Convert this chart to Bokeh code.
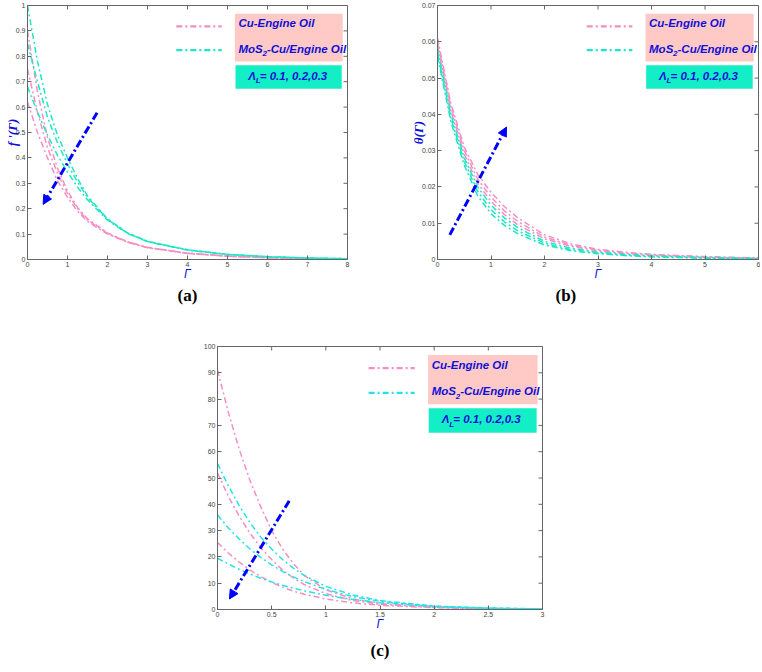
import math
from bokeh.plotting import figure
from bokeh.models import (Range1d, FixedTicker, Title, Label, Arrow,
                          NormalHead, CustomJSTickFormatter, BoxAnnotation)
from bokeh.layouts import column, row
from bokeh.embed import file_html
from bokeh.resources import INLINE

# ---------------- data: panel (a)  f'(Gamma) ----------------
gamma_a = [0, 0.25, 0.5, 0.75, 1, 1.25, 1.5, 2, 2.5, 3, 4, 5, 6, 7, 8]
fa_cu_1 = [0.90, 0.66, 0.48, 0.36, 0.27, 0.205, 0.16, 0.105, 0.070, 0.048, 0.025, 0.013, 0.007, 0.004, 0.002]
fa_cu_2 = [0.75, 0.58, 0.44, 0.34, 0.26, 0.200, 0.155, 0.103, 0.069, 0.047, 0.025, 0.013, 0.007, 0.004, 0.002]
fa_cu_3 = [0.62, 0.50, 0.40, 0.31, 0.245, 0.190, 0.150, 0.100, 0.068, 0.046, 0.024, 0.013, 0.007, 0.004, 0.002]
fa_mos_1 = [1.00, 0.78, 0.61, 0.49, 0.40, 0.320, 0.250, 0.160, 0.105, 0.072, 0.038, 0.020, 0.011, 0.006, 0.003]
fa_mos_2 = [0.85, 0.70, 0.56, 0.46, 0.375, 0.305, 0.245, 0.158, 0.104, 0.071, 0.038, 0.020, 0.011, 0.006, 0.003]
fa_mos_3 = [0.68, 0.58, 0.49, 0.41, 0.345, 0.285, 0.235, 0.155, 0.102, 0.070, 0.037, 0.020, 0.011, 0.006, 0.003]
xticks_a = [0, 1, 2, 3, 4, 5, 6, 7, 8]
yticks_a = [0, 0.1, 0.2, 0.3, 0.4, 0.5, 0.6, 0.7, 0.8, 0.9, 1]

# ---------------- data: panel (b)  theta(Gamma) ----------------
gamma_b = [0, 0.25, 0.5, 0.75, 1, 1.25, 1.5, 2, 2.5, 3, 3.5, 4, 5, 6]
tb_cu_1 = [0.061, 0.043, 0.031, 0.0235, 0.0185, 0.0146, 0.0115, 0.0068, 0.0043, 0.0028, 0.0020, 0.0014, 0.0008, 0.0004]
tb_cu_2 = [0.060, 0.042, 0.030, 0.0222, 0.0172, 0.0134, 0.0105, 0.0062, 0.0039, 0.0026, 0.0018, 0.0013, 0.0007, 0.0004]
tb_cu_3 = [0.059, 0.041, 0.029, 0.0210, 0.0160, 0.0124, 0.0096, 0.0057, 0.0036, 0.0024, 0.0016, 0.0012, 0.0006, 0.0003]
tb_mos_1 = [0.058, 0.040, 0.028, 0.0200, 0.0150, 0.0115, 0.0088, 0.0050, 0.0031, 0.0020, 0.0014, 0.0010, 0.0005, 0.0003]
tb_mos_2 = [0.057, 0.039, 0.027, 0.0188, 0.0137, 0.0104, 0.0079, 0.0045, 0.0027, 0.0018, 0.0012, 0.0009, 0.0004, 0.0002]
tb_mos_3 = [0.056, 0.038, 0.026, 0.0176, 0.0126, 0.0094, 0.0071, 0.0040, 0.0024, 0.0016, 0.0011, 0.0007, 0.0004, 0.0002]
xticks_b = [0, 1, 2, 3, 4, 5, 6]
yticks_b = [0, 0.01, 0.02, 0.03, 0.04, 0.05, 0.06, 0.07]

# ---------------- data: panel (c)  N_G ----------------
gamma_c = [0, 0.1, 0.2, 0.3, 0.4, 0.5, 0.6, 0.7, 0.8, 1.0, 1.25, 1.5, 2, 2.5, 3]
ng_cu_1 = [91, 75, 61, 49, 39, 30, 23, 17.5, 13, 7.5, 4.0, 2.3, 0.9, 0.4, 0.2]
ng_cu_2 = [52, 43, 35.5, 29, 23.5, 19, 15, 12, 9.5, 6.0, 3.4, 2.0, 0.8, 0.35, 0.15]
ng_cu_3 = [25.5, 21.5, 18, 15, 12.5, 10.3, 8.5, 7.0, 5.8, 4.0, 2.5, 1.6, 0.7, 0.3, 0.12]
ng_mos_1 = [55.5, 47, 39.5, 33, 27.5, 23, 19, 15.7, 13, 8.8, 5.5, 3.4, 1.3, 0.55, 0.25]
ng_mos_2 = [36, 31, 26.8, 23, 19.8, 17, 14.5, 12.4, 10.6, 7.6, 4.9, 3.1, 1.2, 0.5, 0.22]
ng_mos_3 = [19.5, 17.3, 15.3, 13.5, 11.9, 10.5, 9.2, 8.1, 7.1, 5.4, 3.8, 2.6, 1.1, 0.45, 0.2]
xticks_c = [0, 0.5, 1, 1.5, 2, 2.5, 3]
yticks_c = [0, 10, 20, 30, 40, 50, 60, 70, 80, 90, 100]

legend_labels = ["Cu-Engine Oil", "MoS", "2", "-Cu/Engine Oil", "\u039b", "L", " = 0.1, 0.2,0.3"]

PINK = "#F48FC4"
PINK_BOX = "#FFC9C5"
CYAN_AB = "#1EE6C6"
CYAN_C = "#26E2E4"
CYAN_BOX = "#14EEC6"
BLUE_TXT = "#1010D8"
ARROW_BLUE = "#0000FF"
AXIS_GRAY = "#666666"
SANS = "Liberation Sans"
SERIF = "Liberation Serif"


def make_panel(width, height, bl, br, bt, bb, xr, yr, xticks, yticks):
    p = figure(width=width, height=height, x_range=Range1d(*xr), y_range=Range1d(*yr),
               output_backend="svg", toolbar_location=None,
               min_border_left=bl, min_border_right=br, min_border_top=bt, min_border_bottom=bb)
    p.grid.visible = False
    p.outline_line_color = AXIS_GRAY
    p.background_fill_color = "white"
    p.border_fill_color = "white"
    fmt = CustomJSTickFormatter(code="return String(Math.round(tick*1000)/1000);")
    for ax, ticks in ((p.xaxis[0], xticks), (p.yaxis[0], yticks)):
        ax.ticker = FixedTicker(ticks=ticks)
        ax.formatter = fmt
        ax.major_tick_in = 4
        ax.major_tick_out = 0
        ax.minor_tick_line_color = None
        ax.axis_line_color = AXIS_GRAY
        ax.major_tick_line_color = AXIS_GRAY
        ax.major_label_text_font = SANS
        ax.major_label_text_font_size = "7px"
        ax.major_label_text_color = "#444444"
        ax.major_label_standoff = 2
    # inward ticks on the top and right edges of the box
    p.ray(x=xticks, y=[yr[1]] * len(xticks), length=4, length_units="screen",
          angle=-math.pi / 2, line_color=AXIS_GRAY, line_width=1)
    p.ray(x=[xr[1]] * len(yticks), y=yticks, length=4, length_units="screen",
          angle=math.pi, line_color=AXIS_GRAY, line_width=1)
    xa = p.xaxis[0]
    xa.axis_label = "\u0393"
    xa.axis_label_text_font = SANS
    xa.axis_label_text_font_style = "italic"
    xa.axis_label_text_font_size = "12px"
    xa.axis_label_text_color = BLUE_TXT
    xa.axis_label_standoff = -3
    return p


def fx(p, f):
    r = p.x_range
    return r.start + f * (r.end - r.start)


def fy(p, ftop):
    r = p.y_range
    return r.end - ftop * (r.end - r.start)


def add_legend(p, cyan):
    p.add_layout(BoxAnnotation(left=fx(p, 0.648), right=fx(p, 0.985), top=fy(p, 0.032), bottom=fy(p, 0.220),
                               fill_color=PINK_BOX, fill_alpha=1, line_color=None))
    p.add_layout(BoxAnnotation(left=fx(p, 0.650), right=fx(p, 0.982), top=fy(p, 0.235), bottom=fy(p, 0.328),
                               fill_color=CYAN_BOX, fill_alpha=1, line_color=None))
    p.line([fx(p, 0.465), fx(p, 0.607)], [fy(p, 0.082)] * 2, line_color=PINK, line_width=2.2, line_dash="6 3 2 3")
    p.line([fx(p, 0.465), fx(p, 0.607)], [fy(p, 0.176)] * 2, line_color=cyan, line_width=2.2, line_dash="6 3 2 3")
    common = dict(text_font=SANS, text_font_style="bold italic", text_color=BLUE_TXT, text_baseline="middle")
    p.add_layout(Label(x=fx(p, 0.659), y=fy(p, 0.070), text=legend_labels[0], text_font_size="11.5px", **common))
    x0, y1 = fx(p, 0.659), fy(p, 0.171)
    p.add_layout(Label(x=x0, y=y1, text=legend_labels[1], text_font_size="11.5px", **common))
    p.add_layout(Label(x=x0, y=y1, x_offset=24, y_offset=-5, text=legend_labels[2], text_font_size="8px", **common))
    p.add_layout(Label(x=x0, y=y1, x_offset=28.5, text=legend_labels[3], text_font_size="11.5px", **common))
    x2, y2 = fx(p, 0.69), fy(p, 0.277)
    p.add_layout(Label(x=x2, y=y2, text=legend_labels[4], text_font_size="11.5px", **common))
    p.add_layout(Label(x=x2, y=y2, x_offset=7.5, y_offset=-5, text=legend_labels[5], text_font_size="8px", **common))
    p.add_layout(Label(x=x2, y=y2, x_offset=11.5, text=legend_labels[6], text_font_size="11.5px", **common))


def add_curves(p, xs, cu_list, mos_list, cyan):
    for ys in cu_list:
        p.line(xs, ys, line_color=PINK, line_width=1.5, line_dash="6 3 2 3")
    for ys in mos_list:
        p.line(xs, ys, line_color=cyan, line_width=1.5, line_dash="6 3 2 3")


def add_arrow(p, xs, ys, xe, ye):
    p.add_layout(Arrow(end=NormalHead(size=9, fill_color=ARROW_BLUE, line_color=ARROW_BLUE),
                       x_start=xs, y_start=ys, x_end=xe, y_end=ye,
                       line_color=ARROW_BLUE, line_width=3, line_dash="8 3 2 3"))


def add_title(p, text, align, offset, standoff):
    p.add_layout(Title(text=text, align=align, offset=offset, standoff=standoff,
                       text_font=SERIF, text_font_size="17px", text_font_style="bold",
                       text_color="black"), "below")


def style_ylabel(p, text, font, standoff):
    ya = p.yaxis[0]
    ya.axis_label = text
    ya.axis_label_text_font = font
    ya.axis_label_text_font_style = "bold italic"
    ya.axis_label_text_font_size = "13px"
    ya.axis_label_text_color = BLUE_TXT
    ya.axis_label_standoff = standoff


# ---------------- panel (a) ----------------
pa = make_panel(397, 310, 27, 50, 5, 51, (0, 8), (0, 1), xticks_a, yticks_a)
add_curves(pa, gamma_a, [fa_cu_1, fa_cu_2, fa_cu_3], [fa_mos_1, fa_mos_2, fa_mos_3], CYAN_AB)
add_legend(pa, CYAN_AB)
add_arrow(pa, 1.74, 0.578, 0.39, 0.217)
style_ylabel(pa, "f '(\u0393)", SERIF, -7)
add_title(pa, "(a)", "center", 0, 1)

# ---------------- panel (b) ----------------
pb = make_panel(363, 310, 40, 2, 5, 51, (0, 6), (0, 0.07), xticks_b, yticks_b)
add_curves(pb, gamma_b, [tb_cu_1, tb_cu_2, tb_cu_3], [tb_mos_1, tb_mos_2, tb_mos_3], CYAN_AB)
add_legend(pb, CYAN_AB)
add_arrow(pb, 0.23, 0.0068, 1.29, 0.0365)
style_ylabel(pb, "\u03b8(\u0393)", SERIF, -7)
add_title(pb, "(b)", "left", 118, 1)

# ---------------- panel (c) ----------------
pc = make_panel(562, 354, 217, 20, 36, 54, (0, 3), (0, 100), xticks_c, yticks_c)
add_curves(pc, gamma_c, [ng_cu_1, ng_cu_2, ng_cu_3], [ng_mos_1, ng_mos_2, ng_mos_3], CYAN_C)
add_legend(pc, CYAN_C)
add_arrow(pc, 0.662, 41.3, 0.11, 4.0)
pc.add_layout(Label(x=fx(pc, -0.062), y=fy(pc, 0.56), text="N", angle=math.pi / 2,
                    text_font=SANS, text_font_style="bold", text_font_size="13px",
                    text_color=BLUE_TXT, text_align="center", text_baseline="middle"))
pc.add_layout(Label(x=fx(pc, -0.044), y=fy(pc, 0.52), text="G", angle=math.pi / 2,
                    text_font=SANS, text_font_style="bold", text_font_size="9px",
                    text_color=BLUE_TXT, text_align="center", text_baseline="middle"))
add_title(pc, "(c)", "center", 0, 10)

layout = column(row(pa, pb), pc)
open("out.html", "w").write(file_html(layout, INLINE))
